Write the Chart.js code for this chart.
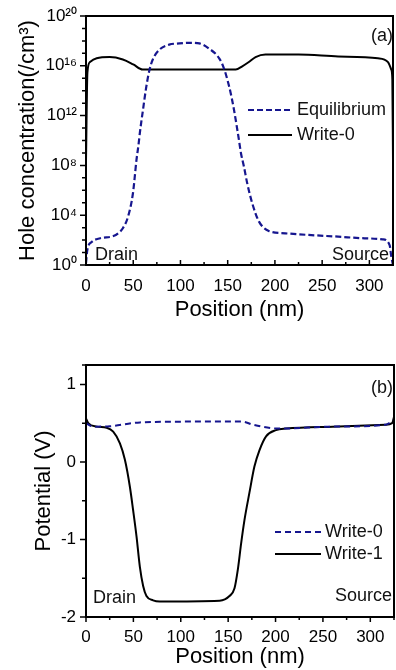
<!DOCTYPE html>
<html>
<head>
<meta charset="utf-8">
<script src="https://cdn.jsdelivr.net/npm/chart.js@4.4.1/dist/chart.umd.min.js"></script>
<style>
  html, body { margin: 0; padding: 0; background: #fff; }
  #wrap { position: relative; width: 396px; height: 670px; }
  canvas { position: absolute; left: 0; }
  #holeChart { top: 0; }
  #potChart { top: 335px; }
</style>
</head>
<body>
<div id="wrap">
  <canvas id="holeChart" width="396" height="335"></canvas>
  <canvas id="potChart" width="396" height="335"></canvas>
</div>
<script>
// ──────── DATA: (a) hole concentration (/cm³) ────────
const eqPos  = [0, 1.4, 6, 15, 29, 34, 39, 44.5, 49.7, 53.5, 55.5, 57, 60.3, 63.8, 67.3, 70.7, 77.8, 88, 99, 110, 120, 130, 141, 146, 149.6, 153.2, 156.7, 162, 164, 167.2, 170.7, 176, 183, 193.5, 211, 235.5, 267, 295, 314, 321.4, 323.2, 325];
const eqHole = [1.4e0, 1.6e1, 7e1, 1.4e2, 2.1e2, 3.5e2, 9e2, 7.6e3, 5.8e5, 3e8, 4e9, 4e10, 2.8e12, 2e14, 5e15, 3.2e16, 2e17, 5e17, 6.3e17, 7e17, 6.3e17, 2.5e17, 4e16, 6.3e15, 8e14, 6.3e13, 2.8e12, 1e10, 1e9, 8e7, 3.6e6, 9e4, 3.2e3, 5.4e2, 3.5e2, 2.6e2, 1.9e2, 1.4e2, 1.15e2, 4e1, 4.7e0, 1e0];
const w0Pos  = [0, 1.5, 4.2, 11.3, 25, 39, 50, 60, 120, 158.5, 165.4, 172.4, 179.5, 190, 225, 267, 309, 319.7, 323.2, 324.3, 325];
const w0Hole = [2.5e8, 3e15, 2e16, 4e16, 5e16, 3.2e16, 1.3e16, 5e15, 5e15, 5e15, 9e15, 2e16, 5e16, 8e16, 8e16, 5.6e16, 4e16, 2e16, 5e15, 8e14, 2.5e8];

// ──────── DATA: (b) potential (V) ────────
const pw0Pos = [0, 7.7, 25, 57, 120, 165, 176, 204, 260, 316, 325];
const pw0V   = [0.50, 0.455, 0.46, 0.51, 0.52, 0.52, 0.48, 0.43, 0.455, 0.48, 0.54];
const pw1Pos = [0, 2.4, 11.3, 21.8, 28.7, 35.8, 41, 46.3, 49.7, 53.3, 56.8, 60.3, 63.8, 70.8, 77.8, 141, 151.4, 156.7, 160.2, 163.7, 167.2, 172.4, 177.7, 183, 190, 200.5, 211, 260, 316, 323, 325];
const pw1V   = [0.56, 0.50, 0.455, 0.44, 0.39, 0.24, 0.03, -0.32, -0.62, -0.96, -1.35, -1.6, -1.73, -1.785, -1.8, -1.79, -1.73, -1.63, -1.39, -1.05, -0.75, -0.40, -0.06, 0.15, 0.33, 0.41, 0.43, 0.455, 0.48, 0.50, 0.58];

// ──────── TICK LABELS ────────
const xTickLabels = [0, 50, 100, 150, 200, 250, 300];
const holeTickExp = [0, 4, 8, 12, 16, 20];
const potTickLabels = [-2, -1, 0, 1];

const FONT = "'Liberation Sans', Arial, Helvetica, sans-serif";
const NAVY = '#16168f';
const SUP = { '0': '⁰', '1': '¹', '2': '²', '3': '³', '4': '⁴', '5': '⁵', '6': '⁶', '7': '⁷', '8': '⁸', '9': '⁹' };
const toPoints = (xs, ys) => xs.map((x, i) => ({ x, y: ys[i] }));

// ──────── PLUGIN: frame, tick marks, in-plot notes ────────
const frameNotes = {
  id: 'frameNotes',
  afterDatasetsDraw(chart, args, opts) {
    const { ctx, chartArea: a, scales } = chart;
    ctx.save();
    ctx.strokeStyle = '#000';
    ctx.lineWidth = 1.5;
    ctx.beginPath();
    scales.x.ticks.forEach(t => {
      const px = scales.x.getPixelForValue(t.value);
      const len = t.label ? 5 : 3;
      const dir = opts.xInward ? -1 : 1;
      ctx.moveTo(px, a.bottom);
      ctx.lineTo(px, a.bottom + dir * len);
    });
    scales.y.ticks.forEach(t => {
      const py = scales.y.getPixelForValue(t.value);
      const len = t.label ? 6 : 4;
      ctx.moveTo(a.left, py);
      ctx.lineTo(a.left - len, py);
    });
    ctx.stroke();
    ctx.lineWidth = 2;
    ctx.strokeRect(a.left, a.top, a.right - a.left, a.bottom - a.top);

    // legend
    ctx.font = `18px ${FONT}`;
    ctx.textBaseline = 'middle';
    ctx.fillStyle = '#111';
    opts.legend.forEach(item => {
      const ds = chart.data.datasets[item.index];
      ctx.beginPath();
      ctx.strokeStyle = ds.borderColor;
      ctx.lineWidth = 2;
      ctx.setLineDash(ds.borderDash || []);
      ctx.moveTo(opts.legendX[0], item.y);
      ctx.lineTo(opts.legendX[1], item.y);
      ctx.stroke();
      ctx.setLineDash([]);
      ctx.textAlign = 'left';
      ctx.fillText(ds.label, opts.legendX[2], item.y);
    });

    // panel tag and ends
    opts.notes.forEach(n => {
      ctx.textAlign = n.align;
      ctx.fillText(n.text, n.x, n.y);
    });
    ctx.restore();
  }
};

const xScale = (tickPad, titlePad, height) => ({
  type: 'linear', min: 0, max: 325,
  grid: { display: false }, border: { display: false },
  ticks: {
    stepSize: 25, autoSkip: false, maxRotation: 0, padding: tickPad, color: '#000',
    font: { size: 17, family: FONT },
    callback: v => xTickLabels.includes(v) ? String(v) : ''
  },
  title: { display: true, text: 'Position (nm)', color: '#000', font: { size: 22, family: FONT }, padding: { top: 0, bottom: titlePad } },
  afterFit: s => { s.height = height; }
});

// ──────── CHART (a) ────────
new Chart(document.getElementById('holeChart'), {
  type: 'line',
  data: {
    datasets: [
      { label: 'Equilibrium', data: toPoints(eqPos, eqHole), borderColor: NAVY, borderWidth: 2.2, borderDash: [6, 3], pointRadius: 0, cubicInterpolationMode: 'monotone' },
      { label: 'Write-0', data: toPoints(w0Pos, w0Hole), borderColor: '#000', borderWidth: 2, pointRadius: 0, cubicInterpolationMode: 'monotone' }
    ]
  },
  options: {
    responsive: false, animation: false, devicePixelRatio: 1,
    layout: { padding: { top: 16, right: 1, left: 0, bottom: 0 } },
    plugins: {
      legend: { display: false }, tooltip: { enabled: false },
      frameNotes: {
        xInward: true,
        legendX: [248, 292, 297],
        legend: [{ index: 0, y: 110 }, { index: 1, y: 135 }],
        notes: [
          { text: '(a)', x: 393, y: 36, align: 'right' },
          { text: 'Drain', x: 95, y: 255, align: 'left' },
          { text: 'Source', x: 389, y: 255, align: 'right' }
        ]
      }
    },
    scales: {
      x: xScale(3, 12, 70),
      y: {
        type: 'logarithmic', min: 1, max: 1e20,
        grid: { display: false }, border: { display: false },
        afterBuildTicks: s => { s.ticks = Array.from({ length: 21 }, (_, i) => ({ value: Math.pow(10, i) })); },
        ticks: {
          autoSkip: false, padding: 1, color: '#000', font: { size: 17, family: FONT },
          callback: v => {
            const e = Math.round(Math.log10(v));
            return holeTickExp.includes(e) ? '10' + String(e).split('').map(d => SUP[d]).join('') : '';
          }
        },
        title: { display: true, text: 'Hole concentration(/cm³)', color: '#000', font: { size: 22, family: FONT }, padding: { top: 15, bottom: 0 } },
        afterFit: s => { s.width = 86; }
      }
    }
  },
  plugins: [frameNotes]
});

// ──────── CHART (b) ────────
new Chart(document.getElementById('potChart'), {
  type: 'line',
  data: {
    datasets: [
      { label: 'Write-0', data: toPoints(pw0Pos, pw0V), borderColor: NAVY, borderWidth: 2, borderDash: [6, 4], pointRadius: 0, cubicInterpolationMode: 'monotone' },
      { label: 'Write-1', data: toPoints(pw1Pos, pw1V), borderColor: '#000', borderWidth: 2, pointRadius: 0, cubicInterpolationMode: 'monotone' }
    ]
  },
  options: {
    responsive: false, animation: false, devicePixelRatio: 1,
    layout: { padding: { top: 30, right: 1, left: 0, bottom: 0 } },
    plugins: {
      legend: { display: false }, tooltip: { enabled: false },
      frameNotes: {
        xInward: false,
        legendX: [275, 321, 325],
        legend: [{ index: 0, y: 197 }, { index: 1, y: 219 }],
        notes: [
          { text: '(b)', x: 393, y: 53, align: 'right' },
          { text: 'Drain', x: 93, y: 263, align: 'left' },
          { text: 'Source', x: 392, y: 261, align: 'right' }
        ]
      }
    },
    scales: {
      x: xScale(2, 0, 53),
      y: {
        type: 'linear', min: -2, max: 1.25,
        grid: { display: false }, border: { display: false },
        ticks: {
          stepSize: 0.5, autoSkip: false, padding: 2, color: '#000', font: { size: 17, family: FONT },
          callback: v => potTickLabels.includes(v) ? String(v) : ''
        },
        title: { display: true, text: 'Potential (V)', color: '#000', font: { size: 22, family: FONT }, padding: { top: 31, bottom: 0 } },
        afterFit: s => { s.width = 86; }
      }
    }
  },
  plugins: [frameNotes]
});
</script>
</body>
</html>
